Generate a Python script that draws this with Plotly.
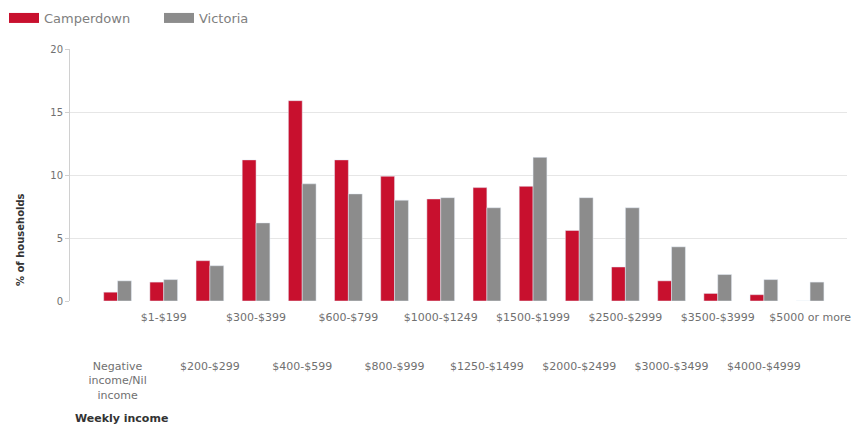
import plotly.graph_objects as go

categories = ["Negative income/Nil income", "$1-$199", "$200-$299", "$300-$399",
              "$400-$599", "$600-$799", "$800-$999", "$1000-$1249", "$1250-$1499",
              "$1500-$1999", "$2000-$2499", "$2500-$2999", "$3000-$3499",
              "$3500-$3999", "$4000-$4999", "$5000 or more"]
tick_labels = ["Negative<br>income/Nil<br>income", "$1-$199", "$200-$299", "$300-$399",
               "$400-$599", "$600-$799", "$800-$999", "$1000-$1249", "$1250-$1499",
               "$1500-$1999", "$2000-$2499", "$2500-$2999", "$3000-$3499",
               "$3500-$3999", "$4000-$4999", "$5000 or more"]
camperdown = [0.7, 1.5, 3.2, 11.2, 15.9, 11.2, 9.9, 8.1, 9.0, 9.1, 5.6, 2.7, 1.6, 0.6, 0.5, 0.0]
victoria = [1.6, 1.7, 2.8, 6.2, 9.3, 8.5, 8.0, 8.2, 7.4, 11.4, 8.2, 7.4, 4.3, 2.1, 1.7, 1.5]

RED = "#c8102e"
GREY = "#8c8c8c"
FONT = "DejaVu Sans"

idx = list(range(len(categories)))
odd = [i for i in idx if i % 2 == 1]
even = [i for i in idx if i % 2 == 0]

fig = go.Figure()
fig.add_trace(go.Bar(x=idx, y=camperdown, name="Camperdown", marker_color=RED,
                     showlegend=False, customdata=categories))
fig.add_trace(go.Bar(x=idx, y=victoria, name="Victoria", marker_color=GREY,
                     showlegend=False, customdata=categories))
# legend swatches (wide rectangles)
fig.add_trace(go.Scatter(x=[None], y=[None], mode="lines", name="Camperdown",
                         line=dict(color=RED, width=10)))
fig.add_trace(go.Scatter(x=[None], y=[None], mode="lines", name="Victoria",
                         line=dict(color=GREY, width=10)))
# carrier for the second (lower) row of category labels
fig.add_trace(go.Scatter(x=[None], y=[None], xaxis="x2", yaxis="y", mode="markers",
                         showlegend=False, hoverinfo="skip"))

fig.update_layout(
    width=851, height=428, autosize=False,
    margin=dict(l=70, r=0, t=49, b=127),
    paper_bgcolor="white", plot_bgcolor="white",
    font=dict(family=FONT, size=11, color="#666666"),
    barmode="group", bargap=0.4, bargroupgap=0,
    showlegend=True,
    legend=dict(orientation="h", x=0.0047, y=0.993, xref="container", yref="container",
                xanchor="left", yanchor="top", font=dict(size=13, color="#808080"),
                entrywidth=110, itemwidth=30),
    xaxis=dict(range=[-1.03, 15.8], tickvals=odd, ticktext=[tick_labels[i] for i in odd],
               showgrid=False, zeroline=False, showline=False, ticks="",
               ticklabelstandoff=8, ticklabeloverflow="allow",
               tickfont=dict(size=11, color="#707070")),
    xaxis2=dict(range=[-1.03, 15.8], overlaying="x", anchor="y", side="bottom",
                tickvals=even, ticktext=[tick_labels[i] for i in even],
                showgrid=False, zeroline=False, showline=False, ticks="",
                ticklabelstandoff=57, ticklabeloverflow="allow",
                tickfont=dict(size=11, color="#707070")),
    yaxis=dict(range=[0, 20], dtick=5, showgrid=True, gridcolor="#e6e6e6",
               zeroline=False, showline=True, linecolor="#d0d0d0",
               ticks="outside", ticklen=4, tickcolor="#d0d0d0",
               tickfont=dict(size=10, color="#707070")),
    annotations=[
        dict(text="<b>% of households</b>", textangle=-90, xref="paper", yref="paper",
             x=0, y=0.242, xanchor="center", yanchor="middle", xshift=-50,
             showarrow=False, font=dict(size=10, color="#333333")),
        dict(text="<b>Weekly income</b>", xref="paper", yref="paper",
             x=0, y=-0.468, xanchor="left", yanchor="middle", xshift=3,
             showarrow=False, font=dict(size=11, color="#333333")),
    ],
)

fig.write_html("out.html", config={"displayModeBar": False},
               post_script="document.body.style.margin='0';document.body.style.overflow='hidden';")
